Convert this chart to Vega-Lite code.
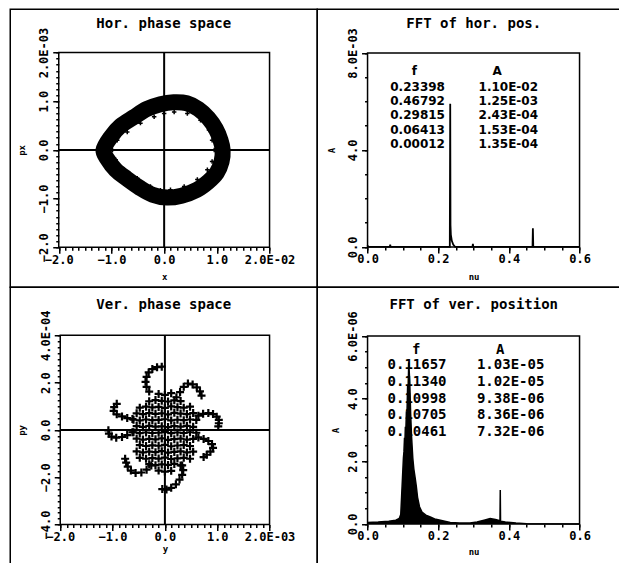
{
  "$schema": "https://vega.github.io/schema/vega-lite/v6.json",
  "background": "white",
  "padding": {"left": 9.25, "top": 8.25, "right": 0, "bottom": 0},
  "config": {
    "view": {"stroke": "black", "strokeWidth": 1.5},
    "font": "DejaVu Sans Mono",
    "axis": {
      "labelFont": "DejaVu Sans Mono", "labelFontSize": 12, "labelFontWeight": "bold", "labelColor": "black",
      "tickColor": "black", "tickWidth": 1.5, "domain": false, "grid": false,
      "titleFont": "DejaVu Sans Mono", "titleFontSize": 9, "titleFontWeight": "bold", "titleColor": "black",
      "titleBaseline": "middle", "labelOverlap": false, "labelFlush": false, "labelBound": false
    },
    "title": {"font": "DejaVu Sans Mono", "fontSize": 14, "fontWeight": "bold", "color": "black", "baseline": "middle", "anchor": "middle", "frame": "group"}
  },
  "datasets": {
    "hor_ring": [
      {"seq": 0, "x": -0.0115, "px": 0},
      {"seq": 1, "x": -0.0101, "px": 0.00027},
      {"seq": 2, "x": -0.0083, "px": 0.00049},
      {"seq": 3, "x": -0.0058, "px": 0.00067},
      {"seq": 4, "x": -0.0033, "px": 0.00084},
      {"seq": 5, "x": -0.0007, "px": 0.00094},
      {"seq": 6, "x": 0.0018, "px": 0.00098},
      {"seq": 7, "x": 0.0043, "px": 0.00096},
      {"seq": 8, "x": 0.0065, "px": 0.00084},
      {"seq": 9, "x": 0.0084, "px": 0.00065},
      {"seq": 10, "x": 0.0098, "px": 0.00043},
      {"seq": 11, "x": 0.0107, "px": 0.0002},
      {"seq": 12, "x": 0.0111, "px": 0},
      {"seq": 13, "x": 0.0109, "px": -0.00024},
      {"seq": 14, "x": 0.01, "px": -0.00047},
      {"seq": 15, "x": 0.0084, "px": -0.00065},
      {"seq": 16, "x": 0.0062, "px": -0.00082},
      {"seq": 17, "x": 0.0033, "px": -0.00094},
      {"seq": 18, "x": 0.0005, "px": -0.00098},
      {"seq": 19, "x": -0.0022, "px": -0.00092},
      {"seq": 20, "x": -0.0046, "px": -0.00078},
      {"seq": 21, "x": -0.0071, "px": -0.00059},
      {"seq": 22, "x": -0.0092, "px": -0.00041},
      {"seq": 23, "x": -0.0107, "px": -0.0002}
    ],
    "hor_edge": [
      {"x": -0.0098, "px": 0}, {"x": -0.0089, "px": 0.0002}, {"x": -0.007, "px": 0.00037}, {"x": -0.0045, "px": 0.00055},
      {"x": -0.0019, "px": 0.00068}, {"x": 0, "px": 0.00075}, {"x": 0.0019, "px": 0.00078}, {"x": 0.0044, "px": 0.00075},
      {"x": 0.0069, "px": 0.00061}, {"x": 0.0085, "px": 0.00041}, {"x": 0.0091, "px": 0.0002}, {"x": 0.0095, "px": 0},
      {"x": 0.0091, "px": -0.00024}, {"x": 0.0082, "px": -0.00041}, {"x": 0.0063, "px": -0.00061}, {"x": 0.0038, "px": -0.00075},
      {"x": 0.0012, "px": -0.00082}, {"x": -0.0007, "px": -0.00083}, {"x": -0.0026, "px": -0.00075}, {"x": -0.0051, "px": -0.00058},
      {"x": -0.0076, "px": -0.00041}, {"x": -0.0092, "px": -0.0002}
    ],
    "hor_fft": [
      {"nu": 0, "A": 0.00007}, {"nu": 0.0012, "A": 0}, {"nu": 0.063, "A": 0}, {"nu": 0.06413, "A": 0.00009},
      {"nu": 0.0652, "A": 0}, {"nu": 0.2328, "A": 0}, {"nu": 0.23398, "A": 0.0059}, {"nu": 0.2347, "A": 0.0009},
      {"nu": 0.2358, "A": 0.0005}, {"nu": 0.2385, "A": 0.00025}, {"nu": 0.2425, "A": 0.0001}, {"nu": 0.248, "A": 0},
      {"nu": 0.297, "A": 0}, {"nu": 0.29815, "A": 0.00013}, {"nu": 0.2993, "A": 0}, {"nu": 0.4669, "A": 0},
      {"nu": 0.46792, "A": 0.00077}, {"nu": 0.469, "A": 0}, {"nu": 0.6, "A": 0}
    ],
    "hor_peaks": [
      {"row": 1, "f": 0.23398, "A": "1.10E-02"},
      {"row": 2, "f": 0.46792, "A": "1.25E-03"},
      {"row": 3, "f": 0.29815, "A": "2.43E-04"},
      {"row": 4, "f": 0.06413, "A": "1.53E-04"},
      {"row": 5, "f": 0.00012, "A": "1.35E-04"}
    ],
    "ver_points": [
      {"y": -0.12e-3, "py": 1.52e-4}, {"y": 0, "py": 1.48e-4}, {"y": 0.12e-3, "py": 1.55e-4},
      {"y": -0.30e-3, "py": 1.21e-4}, {"y": -0.18e-3, "py": 1.26e-4}, {"y": -0.06e-3, "py": 1.23e-4}, {"y": 0.06e-3, "py": 1.20e-4}, {"y": 0.18e-3, "py": 1.25e-4}, {"y": 0.30e-3, "py": 1.22e-4},
      {"y": -0.48e-3, "py": 0.94e-4}, {"y": -0.36e-3, "py": 0.98e-4}, {"y": -0.24e-3, "py": 0.95e-4}, {"y": -0.12e-3, "py": 0.97e-4}, {"y": 0, "py": 0.93e-4}, {"y": 0.12e-3, "py": 0.99e-4}, {"y": 0.24e-3, "py": 0.96e-4}, {"y": 0.36e-3, "py": 0.94e-4}, {"y": 0.48e-3, "py": 0.98e-4},
      {"y": -0.54e-3, "py": 0.70e-4}, {"y": -0.42e-3, "py": 0.67e-4}, {"y": -0.30e-3, "py": 0.71e-4}, {"y": -0.18e-3, "py": 0.68e-4}, {"y": -0.06e-3, "py": 0.70e-4}, {"y": 0.06e-3, "py": 0.66e-4}, {"y": 0.18e-3, "py": 0.72e-4}, {"y": 0.30e-3, "py": 0.69e-4}, {"y": 0.42e-3, "py": 0.67e-4}, {"y": 0.54e-3, "py": 0.71e-4},
      {"y": -0.60e-3, "py": 0.43e-4}, {"y": -0.48e-3, "py": 0.40e-4}, {"y": -0.36e-3, "py": 0.44e-4}, {"y": -0.24e-3, "py": 0.41e-4}, {"y": -0.12e-3, "py": 0.42e-4}, {"y": 0, "py": 0.45e-4}, {"y": 0.12e-3, "py": 0.40e-4}, {"y": 0.24e-3, "py": 0.43e-4}, {"y": 0.36e-3, "py": 0.41e-4}, {"y": 0.48e-3, "py": 0.44e-4}, {"y": 0.60e-3, "py": 0.42e-4},
      {"y": -0.54e-3, "py": 0.16e-4}, {"y": -0.42e-3, "py": 0.13e-4}, {"y": -0.30e-3, "py": 0.17e-4}, {"y": -0.18e-3, "py": 0.14e-4}, {"y": -0.06e-3, "py": 0.15e-4}, {"y": 0.06e-3, "py": 0.12e-4}, {"y": 0.18e-3, "py": 0.16e-4}, {"y": 0.30e-3, "py": 0.14e-4}, {"y": 0.42e-3, "py": 0.17e-4}, {"y": 0.54e-3, "py": 0.13e-4},
      {"y": -0.60e-3, "py": -0.10e-4}, {"y": -0.48e-3, "py": -0.14e-4}, {"y": -0.36e-3, "py": -0.11e-4}, {"y": -0.24e-3, "py": -0.13e-4}, {"y": -0.12e-3, "py": -0.12e-4}, {"y": 0, "py": -0.09e-4}, {"y": 0.12e-3, "py": -0.14e-4}, {"y": 0.24e-3, "py": -0.11e-4}, {"y": 0.36e-3, "py": -0.13e-4}, {"y": 0.48e-3, "py": -0.10e-4}, {"y": 0.60e-3, "py": -0.12e-4},
      {"y": -0.54e-3, "py": -0.37e-4}, {"y": -0.42e-3, "py": -0.41e-4}, {"y": -0.30e-3, "py": -0.38e-4}, {"y": -0.18e-3, "py": -0.40e-4}, {"y": -0.06e-3, "py": -0.36e-4}, {"y": 0.06e-3, "py": -0.42e-4}, {"y": 0.18e-3, "py": -0.39e-4}, {"y": 0.30e-3, "py": -0.37e-4}, {"y": 0.42e-3, "py": -0.41e-4}, {"y": 0.54e-3, "py": -0.38e-4},
      {"y": -0.48e-3, "py": -0.64e-4}, {"y": -0.36e-3, "py": -0.68e-4}, {"y": -0.24e-3, "py": -0.65e-4}, {"y": -0.12e-3, "py": -0.67e-4}, {"y": 0, "py": -0.63e-4}, {"y": 0.12e-3, "py": -0.69e-4}, {"y": 0.24e-3, "py": -0.66e-4}, {"y": 0.36e-3, "py": -0.64e-4}, {"y": 0.48e-3, "py": -0.68e-4},
      {"y": -0.54e-3, "py": -0.91e-4}, {"y": -0.42e-3, "py": -0.95e-4}, {"y": -0.30e-3, "py": -0.92e-4}, {"y": -0.18e-3, "py": -0.94e-4}, {"y": -0.06e-3, "py": -0.90e-4}, {"y": 0.06e-3, "py": -0.96e-4}, {"y": 0.18e-3, "py": -0.93e-4}, {"y": 0.30e-3, "py": -0.91e-4}, {"y": 0.42e-3, "py": -0.95e-4}, {"y": 0.54e-3, "py": -0.92e-4},
      {"y": -0.48e-3, "py": -1.18e-4}, {"y": -0.36e-3, "py": -1.22e-4}, {"y": -0.24e-3, "py": -1.19e-4}, {"y": -0.12e-3, "py": -1.21e-4}, {"y": 0, "py": -1.17e-4}, {"y": 0.12e-3, "py": -1.23e-4}, {"y": 0.24e-3, "py": -1.20e-4}, {"y": 0.36e-3, "py": -1.18e-4}, {"y": 0.48e-3, "py": -1.22e-4},
      {"y": -0.30e-3, "py": -1.45e-4}, {"y": -0.18e-3, "py": -1.49e-4}, {"y": -0.06e-3, "py": -1.46e-4}, {"y": 0.06e-3, "py": -1.48e-4}, {"y": 0.18e-3, "py": -1.44e-4}, {"y": 0.30e-3, "py": -1.50e-4},
      {"y": -0.12e-3, "py": -1.72e-4}, {"y": 0, "py": -1.76e-4}, {"y": 0.12e-3, "py": -1.73e-4},
      {"y": -0.30e-3, "py": 1.62e-4}, {"y": -0.35e-3, "py": 1.82e-4}, {"y": -0.37e-3, "py": 2.03e-4}, {"y": -0.35e-3, "py": 2.24e-4}, {"y": -0.31e-3, "py": 2.43e-4}, {"y": -0.24e-3, "py": 2.57e-4}, {"y": -0.15e-3, "py": 2.65e-4}, {"y": -0.06e-3, "py": 2.67e-4},
      {"y": 0.22e-3, "py": 1.38e-4}, {"y": 0.29e-3, "py": 1.60e-4}, {"y": 0.36e-3, "py": 1.82e-4}, {"y": 0.44e-3, "py": 1.96e-4}, {"y": 0.53e-3, "py": 1.92e-4}, {"y": 0.61e-3, "py": 1.80e-4}, {"y": 0.67e-3, "py": 1.63e-4}, {"y": 0.70e-3, "py": 1.45e-4},
      {"y": 0.64e-3, "py": 0.60e-4}, {"y": 0.73e-3, "py": 0.68e-4}, {"y": 0.83e-3, "py": 0.71e-4}, {"y": 0.92e-3, "py": 0.67e-4}, {"y": 0.99e-3, "py": 0.56e-4}, {"y": 1.03e-3, "py": 0.42e-4}, {"y": 1.03e-3, "py": 0.28e-4}, {"y": 1.02e-3, "py": 0.15e-4},
      {"y": 0.64e-3, "py": -0.32e-4}, {"y": 0.74e-3, "py": -0.38e-4}, {"y": 0.83e-3, "py": -0.47e-4}, {"y": 0.90e-3, "py": -0.60e-4}, {"y": 0.92e-3, "py": -0.76e-4}, {"y": 0.87e-3, "py": -0.92e-4}, {"y": 0.80e-3, "py": -1.05e-4}, {"y": 0.74e-3, "py": -1.15e-4},
      {"y": 0.33e-3, "py": -1.50e-4}, {"y": 0.35e-3, "py": -1.70e-4}, {"y": 0.33e-3, "py": -1.90e-4}, {"y": 0.28e-3, "py": -2.10e-4}, {"y": 0.21e-3, "py": -2.30e-4}, {"y": 0.12e-3, "py": -2.45e-4}, {"y": 0.03e-3, "py": -2.52e-4}, {"y": -0.05e-3, "py": -2.50e-4},
      {"y": -0.26e-3, "py": -1.50e-4}, {"y": -0.35e-3, "py": -1.68e-4}, {"y": -0.45e-3, "py": -1.80e-4}, {"y": -0.56e-3, "py": -1.82e-4}, {"y": -0.65e-3, "py": -1.72e-4}, {"y": -0.71e-3, "py": -1.55e-4}, {"y": -0.74e-3, "py": -1.38e-4}, {"y": -0.76e-3, "py": -1.22e-4},
      {"y": -0.62e-3, "py": -0.10e-4}, {"y": -0.72e-3, "py": -0.22e-4}, {"y": -0.82e-3, "py": -0.30e-4}, {"y": -0.93e-3, "py": -0.33e-4}, {"y": -1.02e-3, "py": -0.28e-4}, {"y": -1.07e-3, "py": -0.16e-4}, {"y": -1.08e-3, "py": -0.02e-4},
      {"y": -0.62e-3, "py": 0.46e-4}, {"y": -0.72e-3, "py": 0.50e-4}, {"y": -0.82e-3, "py": 0.57e-4}, {"y": -0.92e-3, "py": 0.66e-4}, {"y": -0.98e-3, "py": 0.80e-4}, {"y": -0.97e-3, "py": 0.96e-4}, {"y": -0.92e-3, "py": 1.10e-4}
    ],
    "ver_fft": [
      {"nu": 0, "A": 5e-8}, {"nu": 0.03, "A": 6e-8}, {"nu": 0.06, "A": 9e-8}, {"nu": 0.08, "A": 1.2e-7},
      {"nu": 0.09, "A": 1.8e-7}, {"nu": 0.094, "A": 3e-7}, {"nu": 0.0965, "A": 9e-7}, {"nu": 0.099, "A": 1.5e-6},
      {"nu": 0.1015, "A": 2.1e-6}, {"nu": 0.103, "A": 2.3e-6}, {"nu": 0.10461, "A": 2.75e-6}, {"nu": 0.1058, "A": 2.6e-6},
      {"nu": 0.10705, "A": 3.1e-6}, {"nu": 0.1085, "A": 3.0e-6}, {"nu": 0.10998, "A": 3.6e-6}, {"nu": 0.1115, "A": 3.45e-6},
      {"nu": 0.1134, "A": 4.4e-6}, {"nu": 0.1148, "A": 4.2e-6}, {"nu": 0.11657, "A": 5.15e-6}, {"nu": 0.1182, "A": 4.8e-6},
      {"nu": 0.1195, "A": 4.5e-6}, {"nu": 0.122, "A": 3.5e-6}, {"nu": 0.1245, "A": 2.8e-6}, {"nu": 0.128, "A": 2.1e-6},
      {"nu": 0.131, "A": 1.75e-6}, {"nu": 0.135, "A": 1.45e-6}, {"nu": 0.138, "A": 1.2e-6}, {"nu": 0.1415, "A": 8.5e-7},
      {"nu": 0.147, "A": 5.5e-7}, {"nu": 0.154, "A": 3.8e-7}, {"nu": 0.165, "A": 2.8e-7}, {"nu": 0.1775, "A": 2.2e-7},
      {"nu": 0.19, "A": 1.6e-7}, {"nu": 0.206, "A": 1.2e-7}, {"nu": 0.234, "A": 5e-8}, {"nu": 0.26, "A": 3e-8},
      {"nu": 0.29, "A": 3e-8}, {"nu": 0.31, "A": 6e-8}, {"nu": 0.33, "A": 1.2e-7}, {"nu": 0.347, "A": 1.7e-7},
      {"nu": 0.362, "A": 1.4e-7}, {"nu": 0.3748, "A": 1e-7}, {"nu": 0.3756, "A": 1.08e-6}, {"nu": 0.3764, "A": 9e-8},
      {"nu": 0.39, "A": 6e-8}, {"nu": 0.42, "A": 3e-8}, {"nu": 0.45, "A": 1e-8}, {"nu": 0.6, "A": 0}
    ],
    "ver_peaks": [
      {"row": 1, "f": 0.11657, "A": "1.03E-05"},
      {"row": 2, "f": 0.1134, "A": "1.02E-05"},
      {"row": 3, "f": 0.10998, "A": "9.38E-06"},
      {"row": 4, "f": 0.10705, "A": "8.36E-06"},
      {"row": 5, "f": 0.10461, "A": "7.32E-06"}
    ]
  },
  "columns": 2,
  "spacing": 0,
  "bounds": "flush",
  "concat": [
    {
      "width": 307,
      "height": 278,
      "title": {"text": "Hor. phase space", "offset": -21.5},
      "resolve": {"axis": {"x": "independent", "y": "independent"}},
      "layer": [
        {
          "data": {"name": "hor_ring"},
          "mark": {"type": "line", "interpolate": "cardinal-closed", "strokeWidth": 16, "color": "black", "strokeJoin": "round"},
          "encoding": {
            "x": {
              "field": "x", "type": "quantitative",
              "scale": {"domain": [-0.02, 0.02], "range": [48.5, 259.3], "nice": false, "zero": false},
              "axis": {
                "orient": "bottom", "offset": -40, "title": "x", "titleY": 29,
                "values": [-0.02, -0.01, 0, 0.01, 0.02], "tickSize": 6,
                "labelExpr": "datum.value > 0.0199 ? '\u00a0\u00a0\u00a0\u00a0' + format(datum.value*100,'.1f') + 'E-02' : format(datum.value*100,'.1f')",
                "labelAlign": "center", "labelBaseline": "top", "labelPadding": 1
              }
            },
            "y": {
              "field": "px", "type": "quantitative",
              "scale": {"domain": [-0.002, 0.002], "range": [238, 43.3], "nice": false, "zero": false},
              "axis": {
                "orient": "left", "offset": -48.5, "title": "px", "titleX": -37, "titleAngle": 270,
                "values": [-0.002, -0.001, 0, 0.001, 0.002], "tickSize": 6,
                "labelExpr": "datum.value > 0.00199 ? '\u00a0\u00a0\u00a0\u00a0' + format(datum.value*1000,'.1f') + 'E-03' : format(datum.value*1000,'.1f')",
                "labelAngle": 270, "labelAlign": "center", "labelBaseline": "bottom", "labelPadding": 2
              }
            },
            "order": {"field": "seq"}
          }
        },
        {
          "data": {"name": "hor_edge"},
          "mark": {"type": "point", "shape": "M-1,0H1M0,-1V1", "filled": false, "size": 20, "strokeWidth": 1.5, "color": "black", "opacity": 1},
          "encoding": {
            "x": {"field": "x", "type": "quantitative", "axis": null},
            "y": {"field": "px", "type": "quantitative", "axis": null}
          }
        },
        {
          "data": {"values": [{}]},
          "mark": {"type": "rule", "color": "black", "strokeWidth": 2},
          "encoding": {"x": {"datum": 0, "axis": null}, "y": {"datum": -0.002, "axis": null}, "y2": {"datum": 0.002}}
        },
        {
          "data": {"values": [{}]},
          "mark": {"type": "rule", "color": "black", "strokeWidth": 2},
          "encoding": {"y": {"datum": 0, "axis": null}, "x": {"datum": -0.02, "axis": null}, "x2": {"datum": 0.02}}
        },
        {
          "data": {"values": [{}]},
          "mark": {"type": "rect", "filled": false, "color": "black", "strokeWidth": 1.5},
          "encoding": {
            "x": {"datum": -0.02, "axis": {"orient": "bottom", "offset": -40, "title": null, "labels": false, "tickSize": 3,
              "values": [-0.02, -0.01875, -0.0175, -0.01625, -0.015, -0.01375, -0.0125, -0.01125, -0.01, -0.00875, -0.0075, -0.00625, -0.005, -0.00375, -0.0025, -0.00125, 0, 0.00125, 0.0025, 0.00375, 0.005, 0.00625, 0.0075, 0.00875, 0.01, 0.01125, 0.0125, 0.01375, 0.015, 0.01625, 0.0175, 0.01875, 0.02]}},
            "x2": {"datum": 0.02},
            "y": {"datum": -0.002, "axis": {"orient": "left", "offset": -48.5, "title": null, "labels": false, "tickSize": 3,
              "values": [-0.002, -0.001875, -0.00175, -0.001625, -0.0015, -0.001375, -0.00125, -0.001125, -0.001, -0.000875, -0.00075, -0.000625, -0.0005, -0.000375, -0.00025, -0.000125, 0, 0.000125, 0.00025, 0.000375, 0.0005, 0.000625, 0.00075, 0.000875, 0.001, 0.001125, 0.00125, 0.001375, 0.0015, 0.001625, 0.00175, 0.001875, 0.002]}},
            "y2": {"datum": 0.002}
          }
        }
      ]
    },
    {
      "width": 309,
      "height": 278,
      "title": {"text": "FFT of hor. pos.", "offset": -21.5, "dx": 2},
      "resolve": {"scale": {"y": "independent"}, "axis": {"x": "independent", "y": "independent"}},
      "layer": [
        {
          "data": {"name": "hor_peaks"},
          "layer": [
            {
              "mark": {"type": "text", "align": "left", "baseline": "middle", "fontSize": 12, "font": "DejaVu Sans", "fontWeight": "bold", "color": "black"},
              "encoding": {
                "x": {"datum": 0.0643, "axis": null},
                "y": {"field": "row", "type": "quantitative", "scale": {"domain": [1, 5], "range": [78, 134.4]}, "axis": null},
                "text": {"field": "f", "type": "quantitative", "format": ".5f"}
              }
            },
            {
              "mark": {"type": "text", "align": "left", "baseline": "middle", "fontSize": 12, "font": "DejaVu Sans", "fontWeight": "bold", "color": "black"},
              "encoding": {
                "x": {"datum": 0.3142, "axis": null},
                "y": {"field": "row", "type": "quantitative", "axis": null},
                "text": {"field": "A", "type": "nominal"}
              }
            },
            {
              "data": {"values": [{}]},
              "mark": {"type": "text", "text": "f", "align": "center", "baseline": "middle", "dy": -2, "fontSize": 12, "font": "DejaVu Sans", "fontWeight": "bold", "color": "black"},
              "encoding": {"x": {"datum": 0.1322, "axis": null}, "y": {"datum": 0, "axis": null}}
            },
            {
              "data": {"values": [{}]},
              "mark": {"type": "text", "text": "A", "align": "center", "baseline": "middle", "dy": -2, "fontSize": 12, "font": "DejaVu Sans", "fontWeight": "bold", "color": "black"},
              "encoding": {"x": {"datum": 0.367, "axis": null}, "y": {"datum": 0, "axis": null}}
            }
          ]
        },
        {
          "resolve": {"axis": {"x": "independent", "y": "independent"}},
          "layer": [
            {
              "data": {"name": "hor_fft"},
              "mark": {"type": "line", "color": "black", "strokeWidth": 1.8},
              "encoding": {
                "x": {
                  "field": "nu", "type": "quantitative",
                  "scale": {"domain": [0, 0.6], "range": [50.3, 262.3], "nice": false, "zero": false},
                  "axis": {
                    "orient": "bottom", "offset": -40.3, "title": "nu", "titleY": 30,
                    "values": [0, 0.2, 0.4, 0.6], "tickSize": 6, "format": ".1f",
                    "labelAlign": "center", "labelBaseline": "top", "labelPadding": 1
                  }
                },
                "y": {
                  "field": "A", "type": "quantitative",
                  "scale": {"domain": [0, 0.008], "range": [237.7, 43.7], "nice": false, "zero": false},
                  "axis": {
                    "orient": "left", "offset": -50.3, "title": "A", "titleX": -35.6, "titleAngle": 270,
                    "values": [0, 0.004, 0.008], "tickSize": 6,
                    "labelExpr": "datum.value > 0.00799 ? '\u00a0\u00a0\u00a0\u00a0' + format(datum.value*1000,'.1f') + 'E-03' : format(datum.value*1000,'.1f')",
                    "labelAngle": 270, "labelAlign": "center", "labelBaseline": "bottom", "labelPadding": 2
                  }
                }
              }
            },
            {
              "data": {"values": [{}]},
              "mark": {"type": "rect", "filled": false, "color": "black", "strokeWidth": 1.5},
              "encoding": {
                "x": {"datum": 0, "axis": {"orient": "bottom", "offset": -40.3, "title": null, "labels": false, "tickSize": 3,
                  "values": [0, 0.05, 0.1, 0.15, 0.2, 0.25, 0.3, 0.35, 0.4, 0.45, 0.5, 0.55, 0.6]}},
                "x2": {"datum": 0.6},
                "y": {"datum": 0, "axis": {"orient": "left", "offset": -50.3, "title": null, "labels": false, "tickSize": 3,
                  "values": [0, 0.001, 0.002, 0.003, 0.004, 0.005, 0.006, 0.007, 0.008]}},
                "y2": {"datum": 0.008}
              }
            }
          ]
        }
      ]
    },
    {
      "width": 307,
      "height": 283,
      "title": {"text": "Ver. phase space", "offset": -24.5},
      "resolve": {"axis": {"x": "independent", "y": "independent"}},
      "layer": [
        {
          "data": {"name": "ver_points"},
          "mark": {"type": "point", "shape": "M-1,0H1M0,-1V1", "filled": false, "size": 64, "strokeWidth": 2.2, "color": "black", "opacity": 1},
          "encoding": {
            "x": {
              "field": "y", "type": "quantitative",
              "scale": {"domain": [-0.002, 0.002], "range": [50, 259.3], "nice": false, "zero": false},
              "axis": {
                "orient": "bottom", "offset": -45.7, "title": "y", "titleY": 24,
                "values": [-0.002, -0.001, 0, 0.001, 0.002], "tickSize": 6,
                "labelExpr": "datum.value > 0.00199 ? '\u00a0\u00a0\u00a0\u00a0' + format(datum.value*1000,'.1f') + 'E-03' : format(datum.value*1000,'.1f')",
                "labelAlign": "center", "labelBaseline": "top", "labelPadding": 1
              }
            },
            "y": {
              "field": "py", "type": "quantitative",
              "scale": {"domain": [-0.0004, 0.0004], "range": [237.3, 48], "nice": false, "zero": false},
              "axis": {
                "orient": "left", "offset": -50, "title": "py", "titleX": -38.3, "titleAngle": 270,
                "values": [-0.0004, -0.0002, 0, 0.0002, 0.0004], "tickSize": 6,
                "labelExpr": "datum.value > 0.000399 ? '\u00a0\u00a0\u00a0\u00a0' + format(datum.value*10000,'.1f') + 'E-04' : format(datum.value*10000,'.1f')",
                "labelAngle": 270, "labelAlign": "center", "labelBaseline": "bottom", "labelPadding": 2
              }
            }
          }
        },
        {
          "data": {"values": [{}]},
          "mark": {"type": "rule", "color": "black", "strokeWidth": 2},
          "encoding": {"x": {"datum": 0, "axis": null}, "y": {"datum": -0.0004, "axis": null}, "y2": {"datum": 0.0004}}
        },
        {
          "data": {"values": [{}]},
          "mark": {"type": "rule", "color": "black", "strokeWidth": 2},
          "encoding": {"y": {"datum": 0, "axis": null}, "x": {"datum": -0.002, "axis": null}, "x2": {"datum": 0.002}}
        },
        {
          "data": {"values": [{}]},
          "mark": {"type": "rect", "filled": false, "color": "black", "strokeWidth": 1.5},
          "encoding": {
            "x": {"datum": -0.002, "axis": {"orient": "bottom", "offset": -45.7, "title": null, "labels": false, "tickSize": 3,
              "values": [-0.002, -0.001875, -0.00175, -0.001625, -0.0015, -0.001375, -0.00125, -0.001125, -0.001, -0.000875, -0.00075, -0.000625, -0.0005, -0.000375, -0.00025, -0.000125, 0, 0.000125, 0.00025, 0.000375, 0.0005, 0.000625, 0.00075, 0.000875, 0.001, 0.001125, 0.00125, 0.001375, 0.0015, 0.001625, 0.00175, 0.001875, 0.002]}},
            "x2": {"datum": 0.002},
            "y": {"datum": -0.0004, "axis": {"orient": "left", "offset": -50, "title": null, "labels": false, "tickSize": 3,
              "values": [-0.0004, -0.000375, -0.00035, -0.000325, -0.0003, -0.000275, -0.00025, -0.000225, -0.0002, -0.000175, -0.00015, -0.000125, -0.0001, -0.000075, -0.00005, -0.000025, 0, 0.000025, 0.00005, 0.000075, 0.0001, 0.000125, 0.00015, 0.000175, 0.0002, 0.000225, 0.00025, 0.000275, 0.0003, 0.000325, 0.00035, 0.000375, 0.0004]}},
            "y2": {"datum": 0.0004}
          }
        }
      ]
    },
    {
      "width": 309,
      "height": 283,
      "title": {"text": "FFT of ver. position", "offset": -24.5, "dx": 2},
      "resolve": {"scale": {"y": "independent"}, "axis": {"x": "independent", "y": "independent"}},
      "layer": [
        {
          "data": {"name": "ver_peaks"},
          "layer": [
            {
              "mark": {"type": "text", "align": "left", "baseline": "middle", "fontSize": 14, "font": "DejaVu Sans Mono", "fontWeight": "bold", "color": "black"},
              "encoding": {
                "x": {"datum": 0.0566, "axis": null},
                "y": {"field": "row", "type": "quantitative", "scale": {"domain": [1, 5], "range": [78, 144.7]}, "axis": null},
                "text": {"field": "f", "type": "quantitative", "format": ".5f"}
              }
            },
            {
              "mark": {"type": "text", "align": "left", "baseline": "middle", "fontSize": 14, "font": "DejaVu Sans Mono", "fontWeight": "bold", "color": "black"},
              "encoding": {
                "x": {"datum": 0.3096, "axis": null},
                "y": {"field": "row", "type": "quantitative", "axis": null},
                "text": {"field": "A", "type": "nominal"}
              }
            },
            {
              "data": {"values": [{}]},
              "mark": {"type": "text", "text": "f", "align": "center", "baseline": "middle", "dy": 1, "fontSize": 14, "font": "DejaVu Sans Mono", "fontWeight": "bold", "color": "black"},
              "encoding": {"x": {"datum": 0.1378, "axis": null}, "y": {"datum": 0, "axis": null}}
            },
            {
              "data": {"values": [{}]},
              "mark": {"type": "text", "text": "A", "align": "center", "baseline": "middle", "dy": 1, "fontSize": 14, "font": "DejaVu Sans Mono", "fontWeight": "bold", "color": "black"},
              "encoding": {"x": {"datum": 0.3756, "axis": null}, "y": {"datum": 0, "axis": null}}
            }
          ]
        },
        {
          "resolve": {"axis": {"x": "independent", "y": "independent"}},
          "layer": [
            {
              "data": {"name": "ver_fft"},
              "mark": {"type": "area", "color": "black", "opacity": 1},
              "encoding": {
                "x": {
                  "field": "nu", "type": "quantitative",
                  "scale": {"domain": [0, 0.6], "range": [50.3, 262.3], "nice": false, "zero": false},
                  "axis": {
                    "orient": "bottom", "offset": -46.3, "title": "nu", "titleY": 28,
                    "values": [0, 0.2, 0.4, 0.6], "tickSize": 6, "format": ".1f",
                    "labelAlign": "center", "labelBaseline": "top", "labelPadding": 1
                  }
                },
                "y": {
                  "field": "A", "type": "quantitative",
                  "scale": {"domain": [0, 0.000006], "range": [236.7, 48.7], "nice": false, "zero": false},
                  "axis": {
                    "orient": "left", "offset": -50.3, "title": "A", "titleX": -32.3, "titleAngle": 270,
                    "values": [0, 0.000002, 0.000004, 0.000006], "tickSize": 6,
                    "labelExpr": "datum.value > 0.00000599 ? '\u00a0\u00a0\u00a0\u00a0' + format(datum.value*1000000,'.1f') + 'E-06' : format(datum.value*1000000,'.1f')",
                    "labelAngle": 270, "labelAlign": "center", "labelBaseline": "bottom", "labelPadding": 2
                  }
                }
              }
            },
            {
              "data": {"name": "ver_fft"},
              "mark": {"type": "line", "color": "black", "strokeWidth": 1.5},
              "encoding": {
                "x": {"field": "nu", "type": "quantitative", "axis": null},
                "y": {"field": "A", "type": "quantitative", "axis": null}
              }
            },
            {
              "data": {"values": [{}]},
              "mark": {"type": "rect", "filled": false, "color": "black", "strokeWidth": 1.5},
              "encoding": {
                "x": {"datum": 0, "axis": {"orient": "bottom", "offset": -46.3, "title": null, "labels": false, "tickSize": 3,
                  "values": [0, 0.05, 0.1, 0.15, 0.2, 0.25, 0.3, 0.35, 0.4, 0.45, 0.5, 0.55, 0.6]}},
                "x2": {"datum": 0.6},
                "y": {"datum": 0, "axis": {"orient": "left", "offset": -50.3, "title": null, "labels": false, "tickSize": 3,
                  "values": [0, 5e-7, 1e-6, 1.5e-6, 2e-6, 2.5e-6, 3e-6, 3.5e-6, 4e-6, 4.5e-6, 5e-6, 5.5e-6, 6e-6]}},
                "y2": {"datum": 0.000006}
              }
            }
          ]
        }
      ]
    }
  ]
}
